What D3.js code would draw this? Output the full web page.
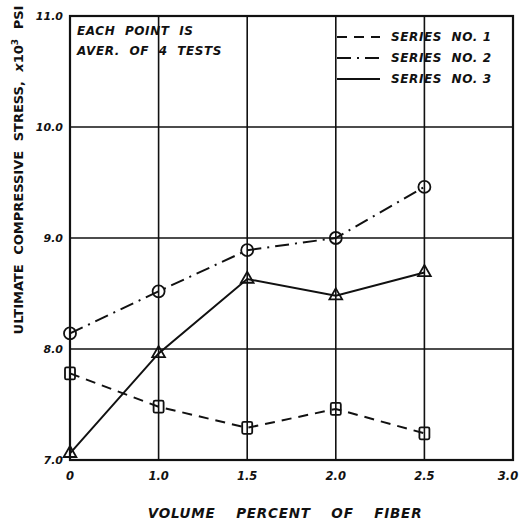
<!DOCTYPE html>
<html>
<head>
<meta charset="utf-8">
<script src="https://cdn.jsdelivr.net/npm/d3@7.9.0/dist/d3.min.js"></script>
<style>
  body { margin: 0; background: #fff; }
  text { font-family: "DejaVu Sans", sans-serif; font-weight: bold; font-style: italic; fill: #111; }
</style>
</head>
<body>
<svg id="chart" width="522" height="526"></svg>
<script>
// x axis is evenly spaced categories (0 and 1.0 sit one step apart, like the others)
const xLabels = ['0', '1.0', '1.5', '2.0', '2.5', '3.0'];
const yTicks = [7, 8, 9, 10, 11];

const pointsX = ['0', '1.0', '1.5', '2.0', '2.5'];
const series1 = [7.78, 7.48, 7.29, 7.46, 7.24];   // squares, dashed
const series2 = [8.14, 8.52, 8.89, 9.00, 9.46];   // circles, dash-dot
const series3 = [7.06, 7.96, 8.63, 8.48, 8.69];   // triangles, solid

const legendNames = ['SERIES  NO. 1', 'SERIES  NO. 2', 'SERIES  NO. 3'];
const noteLines = ['EACH  POINT  IS', 'AVER.  OF  4  TESTS'];

const svg = d3.select('#chart');
const mLeft = 70, mRight = 513, mTop = 16, mBottom = 460;

let x = d3.scalePoint().domain(xLabels).range([mLeft, mRight]);
let y = d3.scaleLinear().domain([7, 11]).range([mBottom, mTop]);

/* grid */
let grid = svg.append('g').attr('stroke', '#111').attr('stroke-width', 1.6);
xLabels.forEach((d) => {
    grid.append('line').attr('x1', x(d)).attr('x2', x(d)).attr('y1', mTop).attr('y2', mBottom);
});
yTicks.forEach((d) => {
    grid.append('line').attr('x1', mLeft).attr('x2', mRight).attr('y1', y(d)).attr('y2', y(d));
});
svg.append('rect')
    .attr('x', mLeft).attr('y', mTop)
    .attr('width', mRight - mLeft).attr('height', mBottom - mTop)
    .attr('fill', 'none').attr('stroke', '#111').attr('stroke-width', 2.2);

/* tick labels */
yTicks.forEach((d) => {
    svg.append('text')
        .attr('x', mLeft - 7).attr('y', y(d) + 4)
        .attr('text-anchor', 'end').attr('font-size', 11)
        .text(d.toFixed(1));
});
xLabels.forEach((d) => {
    svg.append('text')
        .attr('x', Math.min(x(d), 508)).attr('y', mBottom + 20) // last label kept inside the page
        .attr('text-anchor', 'middle').attr('font-size', 11.5)
        .text(d);
});

/* axis titles */
svg.append('text')
    .attr('x', 285).attr('y', 518)
    .attr('text-anchor', 'middle').attr('font-size', 13.5)
    .attr('letter-spacing', 0.8)
    .attr('word-spacing', 15)
    .text('VOLUME PERCENT OF FIBER');

let yTitle = svg.append('text')
    .attr('transform', 'translate(23,170) rotate(-90)')
    .attr('text-anchor', 'middle').attr('font-size', 13)
    .attr('word-spacing', 5)
    .style('font-style', 'normal');
yTitle.append('tspan').text('ULTIMATE COMPRESSIVE STRESS, ');
yTitle.append('tspan').style('font-style', 'italic').text('x');
yTitle.append('tspan').text('10');
yTitle.append('tspan').attr('font-size', 9).attr('dy', -5).text('3');
yTitle.append('tspan').attr('dy', 5).text(' PSI');

/* note */
noteLines.forEach((t, i) => {
    svg.append('text')
        .attr('x', 77).attr('y', 35 + i * 20)
        .attr('font-size', 12)
        .attr('letter-spacing', 0.6)
        .style('white-space', 'pre')
        .text(t);
});

/* series lines */
const styles = [
    { data: series1, dash: '10,7', marker: 'square' },
    { data: series2, dash: '14,6,2,6', marker: 'circle' },
    { data: series3, dash: null, marker: 'triangle' }
];

let line = d3.line().x((d) => x(d[0])).y((d) => y(d[1]));

styles.forEach((s) => {
    let pts = pointsX.map((px, i) => [px, s.data[i]]);
    svg.append('path')
        .attr('d', line(pts))
        .attr('fill', 'none').attr('stroke', '#111').attr('stroke-width', 2)
        .attr('stroke-dasharray', s.dash);
    pts.forEach((p) => {
        let cx = x(p[0]), cy = y(p[1]);
        let m;
        if (s.marker === 'circle') {
            m = svg.append('circle').attr('cx', cx).attr('cy', cy).attr('r', 6);
        } else if (s.marker === 'square') {
            m = svg.append('rect').attr('x', cx - 5).attr('y', cy - 6).attr('width', 10).attr('height', 12).attr('rx', 1.5);
        } else {
            m = svg.append('path').attr('d', d3.symbol(d3.symbolTriangle, 70)()).attr('transform', `translate(${cx},${cy})`);
        }
        m.attr('fill', 'none').attr('stroke', '#111').attr('stroke-width', 1.8);
    });
});

/* legend */
styles.forEach((s, i) => {
    let ly = 37 + i * 21;
    svg.append('line')
        .attr('x1', 337).attr('x2', 380).attr('y1', ly).attr('y2', ly)
        .attr('stroke', '#111').attr('stroke-width', 2)
        .attr('stroke-dasharray', s.dash);
    svg.append('text')
        .attr('x', 391).attr('y', ly + 4)
        .attr('font-size', 12)
        .attr('letter-spacing', 0.6)
        .style('white-space', 'pre')
        .text(legendNames[i]);
});
</script>
</body>
</html>
